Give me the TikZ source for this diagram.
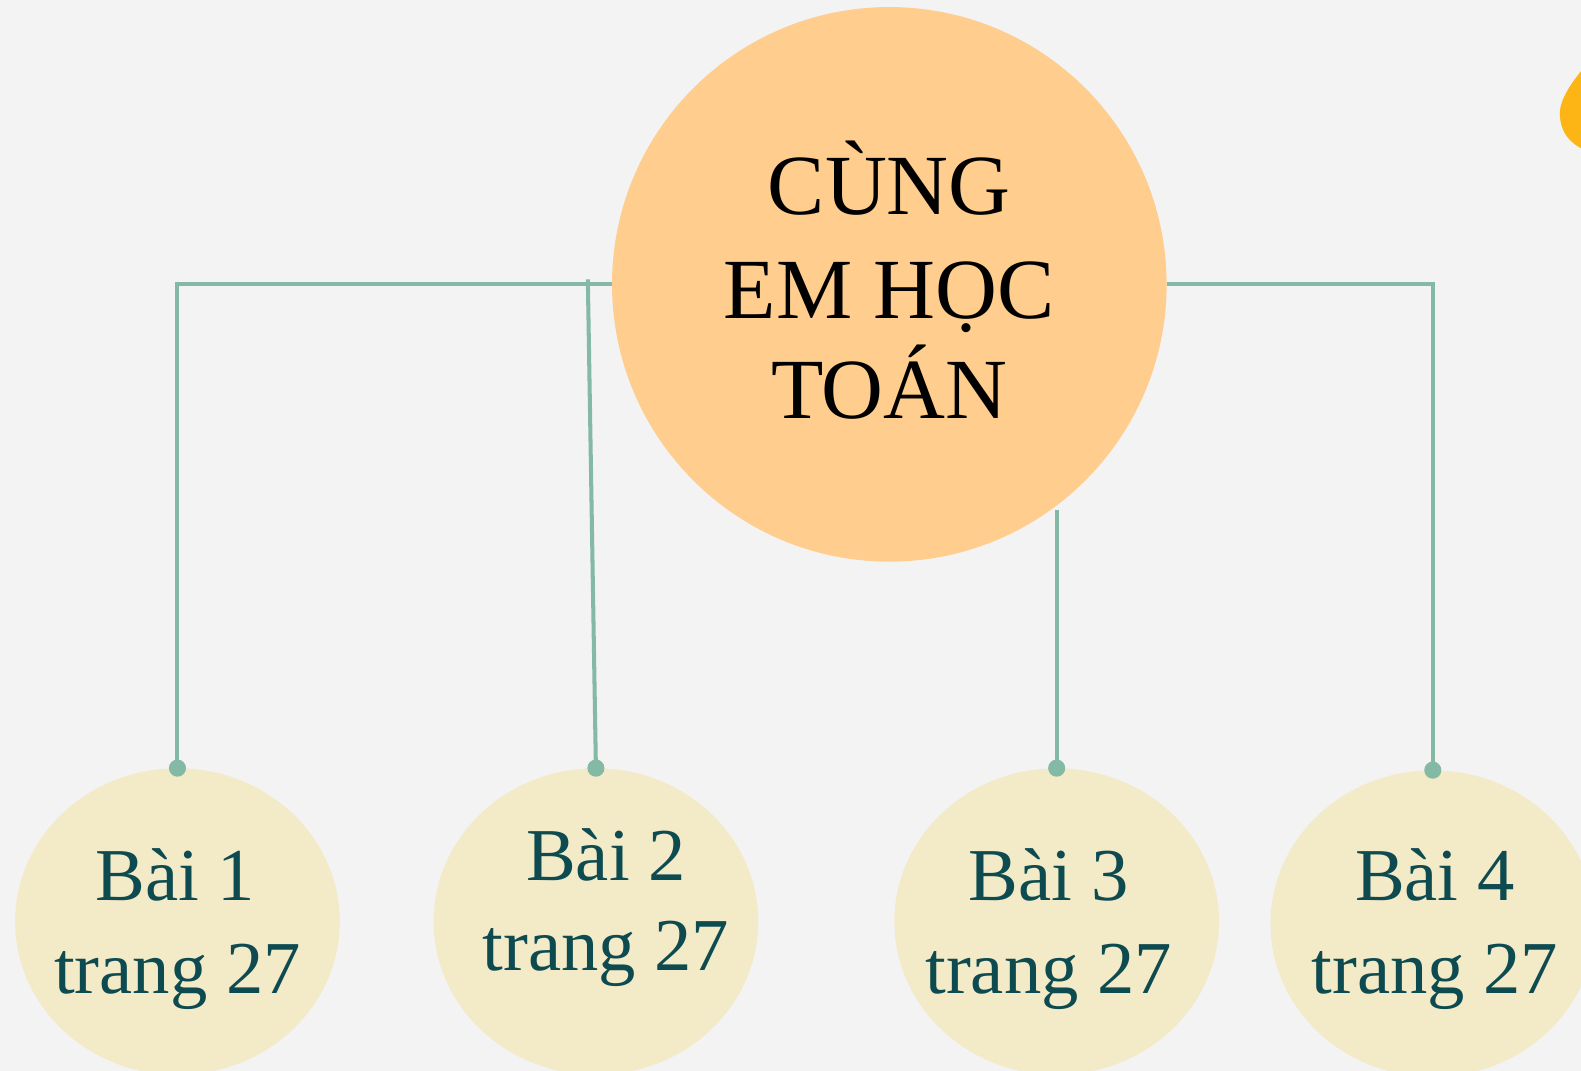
\documentclass[tikz,border=0pt]{standalone}
\usepackage{fontspec}
\setmainfont{Liberation Serif}
\usetikzlibrary{shapes.geometric}
\definecolor{bg}{HTML}{F3F3F3}
\definecolor{mainfill}{HTML}{FFCD8E}
\definecolor{subfill}{HTML}{F3EAC8}
\definecolor{linec}{HTML}{84B9A5}
\definecolor{subtext}{HTML}{0D4B50}
\definecolor{drop}{HTML}{FDB515}
\tikzset{
  mainc/.style={circle, fill=mainfill, minimum size=550, inner sep=0},
  subc/.style={ellipse, fill=subfill, minimum width=322, minimum height=304, inner sep=0},
  ttl/.style={anchor=base, font=\fontsize{85}{100}\selectfont, text=black, inner sep=0},
  sub/.style={anchor=base, font=\fontsize{74}{90}\selectfont, text=subtext, inner sep=0},
  conn/.style={draw=linec, line width=4},
  dot/.style={fill=linec}
}
\begin{document}
\begin{tikzpicture}[x=1pt,y=-1pt]
\useasboundingbox (0,0) rectangle (1568,1062);
\begin{scope}
\clip (0,0) rectangle (1568,1062);
\fill[bg] (0,0) rectangle (1568,1062);
% orange drop at top right
\fill[drop] (1580,58) .. controls (1565,72) and (1547,96) .. (1547,112)
  .. controls (1547,132) and (1558,145) .. (1580,152) -- cycle;
% nodes
\node[mainc] (c0) at (882,282) {};
\node[subc] (b1) at (176,914) {};
\node[subc] (b2) at (591,914) {};
\node[subc] (b3) at (1048,914) {};
\node[subc] (b4) at (1421,916) {};
% connectors
\coordinate (s2) at (583,277);
\coordinate (s3) at (1048,506);
\draw[conn] (c0.west) -| (b1.north);
\draw[conn] (s2) -- (b2.north);
\draw[conn] (s3) -- (b3.north);
\draw[conn] (c0.east) -| (b4.north);
\fill[dot] (b1.north) circle (8.5);
\fill[dot] (b2.north) circle (8.5);
\fill[dot] (b3.north) circle (8.5);
\fill[dot] (b4.north) circle (8.5);
% texts
\node[ttl] (t1) at (882,213) {CÙNG};
\node[ttl] (t2) at (882,316) {EM HỌC};
\node[ttl] (t3) at (882,415) {TOÁN};
\node[sub] (l1a) at (174,893) {Bài 1};
\node[sub] (l1b) at (176,985) {trang 27};
\node[sub] (l2a) at (601,873) {Bài 2};
\node[sub] (l2b) at (601,963) {trang 27};
\node[sub] (l3a) at (1040,893) {Bài 3};
\node[sub] (l3b) at (1040,985) {trang 27};
\node[sub] (l4a) at (1423,893) {Bài 4};
\node[sub] (l4b) at (1423,985) {trang 27};
\end{scope}
\end{tikzpicture}
\end{document}
